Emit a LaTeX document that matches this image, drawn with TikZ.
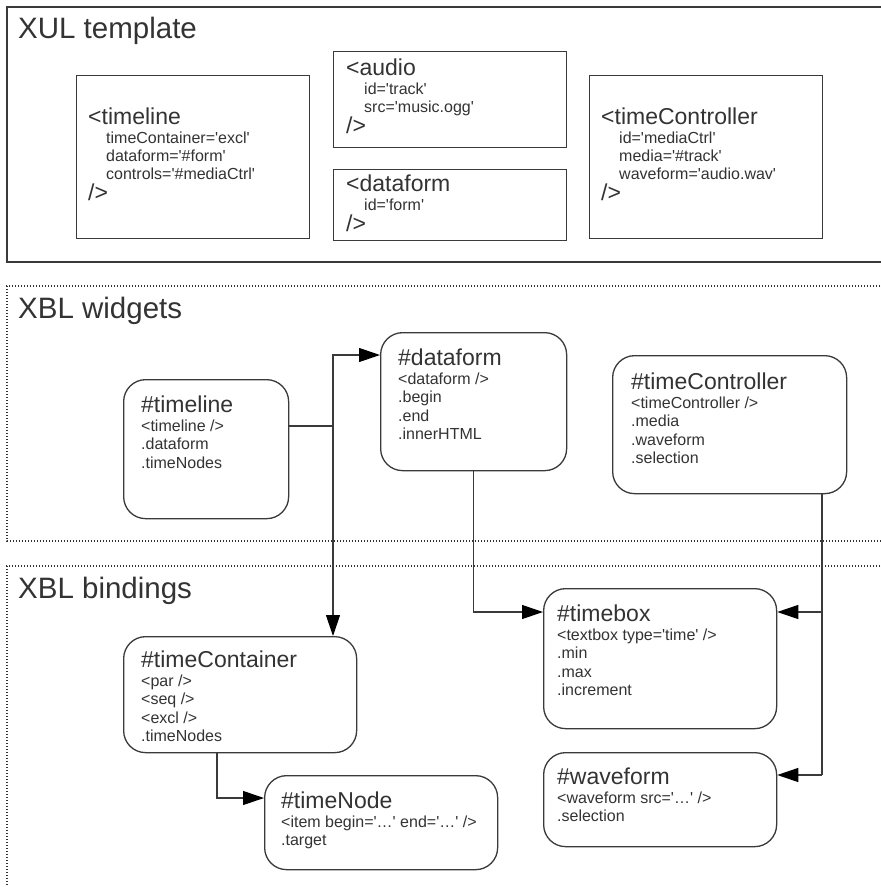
\documentclass[tikz,border=0pt]{standalone}
\usepackage{fontspec}
\setmainfont{Liberation Sans}[Ligatures=TeXOff]
\usetikzlibrary{arrows.meta,calc}
\definecolor{txtc}{HTML}{333333}
\definecolor{linec}{HTML}{3A3A3A}
\newcommand\hdf{\fontsize{23}{26}\selectfont}
\newcommand\smf{\fontsize{16}{18}\selectfont}
\newcommand\ttlf{\fontsize{29.5}{32}\selectfont}
\newcommand\Hd[1]{\hbox{\hdf #1}}
\newcommand\Sm[1]{\hbox{\smf #1}}
\newcommand\Ind[1]{\hbox{\hspace*{18pt}\smf #1}}
\newcommand\mytext[1]{\vtop{\baselineskip=18.3pt\lineskiplimit=-40pt\lineskip=0pt #1}}
\tikzset{
  xulbox/.style={draw=linec, line width=1.3pt, inner sep=0pt, anchor=north west},
  xblbox/.style={draw=linec, line width=1.3pt, inner sep=0pt, anchor=north west, rounded corners=22pt},
  txt/.style={inner sep=0pt, anchor=base west, text=txtc},
  ttl/.style={inner sep=0pt, anchor=base west, text=txtc, font=\ttlf},
  conn/.style={draw=linec, line width=1.1pt},
  arr/.style={conn, -{Triangle[length=21pt,width=14pt,fill=black,color=black]}},
  solidframe/.style={draw=linec, line width=1.3pt},
  dotframe/.style={draw=black!80, line width=1.2pt, dash pattern=on 1.2pt off 1.8pt}
}
\begin{document}
\begin{tikzpicture}[x=1pt,y=-1pt]
\useasboundingbox (0,0) rectangle (881,887);
\fill[white] (0,0) rectangle (881,887);

% frames
\draw[solidframe] (895,7) -- (7,7) -- (7,262) -- (895,262);
\draw[dotframe] (895,286) -- (7,286) -- (7,541) -- (895,541);
\draw[dotframe] (895,566) -- (7,566) -- (7,900);
\node[ttl] (t1) at (18,38) {XUL template};
\node[ttl] (t2) at (18,318) {XBL widgets};
\node[ttl] (t3) at (18,598) {XBL bindings};

% XUL template boxes
\node[xulbox, minimum width=233pt, minimum height=163pt] (xtl) at (76,75) {};
\node[xulbox, minimum width=233pt, minimum height=96pt] (xau) at (333,51) {};
\node[xulbox, minimum width=233pt, minimum height=71pt] (xdf) at (333,169) {};
\node[xulbox, minimum width=233pt, minimum height=163pt] (xtc) at (589,75) {};

\node[txt] (xtlT) at (88,124) {\mytext{\Hd{<timeline}\vskip0.7pt
  \Ind{timeContainer='excl'}\Ind{dataform='\#form'}\Ind{controls='\#mediaCtrl'}\vskip2.7pt\Hd{/>}}};
\node[txt] (xauT) at (346,75) {\mytext{\Hd{<audio}\vskip0.7pt
  \Ind{id='track'}\Ind{src='music.ogg'}\vskip2.7pt\Hd{/>}}};
\node[txt] (xdfT) at (346,191) {\mytext{\Hd{<dataform}\vskip0.7pt
  \Ind{id='form'}\vskip2.7pt\Hd{/>}}};
\node[txt] (xtcT) at (601,124) {\mytext{\Hd{<timeController}\vskip0.7pt
  \Ind{id='mediaCtrl'}\Ind{media='\#track'}\Ind{waveform='audio.wav'}\vskip2.7pt\Hd{/>}}};

% XBL widgets
\node[xblbox, minimum width=165pt, minimum height=139pt] (wtl) at (123,379) {};
\node[xblbox, minimum width=186pt, minimum height=138pt] (wdf) at (380,332) {};
\node[xblbox, minimum width=234pt, minimum height=138pt] (wtr) at (612,355) {};

\node[txt] (wtlT) at (141,412) {\mytext{\Hd{\#timeline}\vskip1.2pt
  \Sm{<timeline />}\Sm{.dataform}\Sm{.timeNodes}}};
\node[txt] (wdfT) at (398,365) {\mytext{\Hd{\#dataform}\vskip1.2pt
  \Sm{<dataform />}\Sm{.begin}\Sm{.end}\Sm{.innerHTML}}};
\node[txt] (wtrT) at (631,389) {\mytext{\Hd{\#timeController}\vskip1.2pt
  \Sm{<timeController />}\Sm{.media}\Sm{.waveform}\Sm{.selection}}};

% XBL bindings
\node[xblbox, minimum width=233pt, minimum height=116pt] (wtc) at (123,636) {};
\node[xblbox, minimum width=233pt, minimum height=94pt] (wtn) at (264,775) {};
\node[xblbox, minimum width=233pt, minimum height=140pt] (wtb) at (543,588) {};
\node[xblbox, minimum width=233pt, minimum height=94pt] (wwf) at (543,752) {};

\node[txt] (wtcT) at (141,667) {\mytext{\Hd{\#timeContainer}\vskip1.2pt
  \Sm{<par />}\Sm{<seq />}\Sm{<excl />}\Sm{.timeNodes}}};
\node[txt] (wtnT) at (281,808) {\mytext{\Hd{\#timeNode}\vskip1.2pt
  \Sm{<item begin='…' end='…' />}\Sm{.target}}};
\node[txt] (wtbT) at (557,621) {\mytext{\Hd{\#timebox}\vskip1.2pt
  \Sm{<textbox type='time' />}\Sm{.min}\Sm{.max}\Sm{.increment}}};
\node[txt] (wwfT) at (557,784) {\mytext{\Hd{\#waveform}\vskip1.2pt
  \Sm{<waveform src='…' />}\Sm{.selection}}};

% connectors
\coordinate (j1) at (333,426);
\coordinate (dfy) at (0,355);
\coordinate (tby) at (0,612);
\coordinate (wfy) at (0,775);
\coordinate (tny) at (0,798);
\coordinate (rx) at (822,0);
\coordinate (cx) at (217,0);
\draw[conn] (wtl.east |- j1) -- (j1);
\draw[arr] (j1) |- (wdf.west |- dfy);
\draw[arr] (j1) -- (wtc.north -| j1);
\draw[arr] (wdf.south) |- (wtb.west |- tby);
\draw[conn] (wtr.south -| rx) -- (rx |- wfy);
\draw[arr] (rx |- tby) -- (wtb.east |- tby);
\draw[arr] (rx |- wfy) -- (wwf.east |- wfy);
\draw[arr] (wtc.south -| cx) |- (wtn.west |- tny);
\end{tikzpicture}
\end{document}
